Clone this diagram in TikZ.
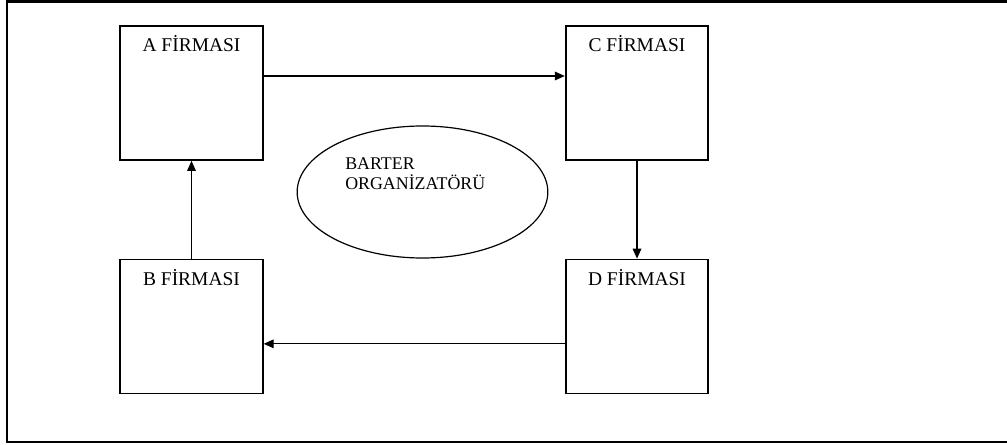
\documentclass[tikz,border=0pt]{standalone}
\usepackage{fontspec}
\setmainfont{Liberation Serif}
\usetikzlibrary{arrows.meta,shapes.geometric}

\tikzset{
	firma/.style={draw, line width=1.3pt, minimum width=107pt, minimum height=100.5pt, inner sep=0pt},
	firmalabel/.style={anchor=base, yshift=-19.8pt, inner sep=0pt, font=\fontsize{14.6}{17}\selectfont},
	akis/.style={->, line width=0.9pt}
}

\begin{document}
\begin{tikzpicture}[x=0.75pt, y=-0.75pt, >={Triangle[length=7.5pt,width=6.5pt]}]
		\useasboundingbox (0,0) rectangle (1007,445);
		\draw [line width=1.9pt] (1007,1.5) -- (7,1.5) -- (7,442) -- (1007,442);
		\node [firma, label={[firmalabel]north:A FİRMASI}] (firmaA) at (191.5,93) {};
		\node [firma, label={[firmalabel]north:C FİRMASI}] (firmaC) at (637,93) {};
		\node [firma, label={[firmalabel]north:B FİRMASI}] (firmaB) at (191.5,326.5) {};
		\node [firma, label={[firmalabel]north:D FİRMASI}] (firmaD) at (637,326.5) {};
		\node [draw, ellipse, line width=0.9pt, minimum width=188pt, minimum height=99pt] (organizator) at (422.5,192) {};
		\node [anchor=north west, inner sep=0pt, align=left, font=\fontsize{13.4}{15}\selectfont] (barterLabel) at (345,157.5) {BARTER\\ORGANİZATÖRÜ};
		\draw [akis] ([yshift=12.75pt]firmaA.east) -- ([yshift=12.75pt]firmaC.west);
		\draw [akis] (firmaC.south) -- (firmaD.north);
		\draw [akis] ([yshift=-13pt]firmaD.west) -- ([yshift=-13pt]firmaB.east);
		\draw [akis] (firmaB.north) -- (firmaA.south);
		\end{tikzpicture}
\end{document}
